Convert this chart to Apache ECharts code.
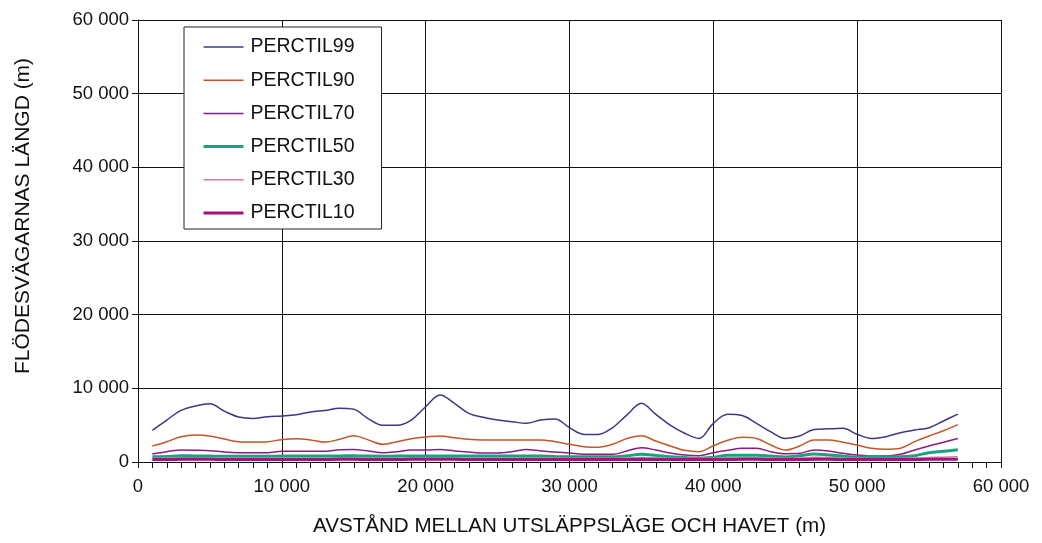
<!DOCTYPE html>
<html>
<head>
<meta charset="utf-8">
<script src="https://cdn.jsdelivr.net/npm/echarts@6/dist/echarts.min.js"></script>
<style>
html,body{margin:0;padding:0;background:#fff;}
#chart{width:1042px;height:543px;}
</style>
</head>
<body>
<div id="chart"></div>
<script>
// Distance from release point to sea (m)
const xValues = [1000,2000,3000,4000,5000,6000,7000,8000,9000,10000,
  11000,12000,13000,14000,15000,16000,17000,18000,19000,20000,
  21000,22000,23000,24000,25000,26000,27000,28000,29000,30000,
  31000,32000,33000,34000,35000,36000,37000,38000,39000,40000,
  41000,42000,43000,44000,45000,46000,47000,48000,49000,50000,
  51000,52000,53000,54000,55000,56000,57000];

const perctil99 = [4300,5700,7000,7600,7900,6900,6100,5900,6150,6250,
  6400,6800,7000,7300,7150,5900,5000,5000,5700,7500,
  9100,7960,6600,6070,5700,5470,5250,5700,5840,4660,
  3750,3750,4660,6400,7960,6470,5000,3900,3200,5250,
  6470,6300,5250,4100,3200,3530,4400,4500,4570,3760,
  3200,3440,3980,4340,4660,5570,6500];

const perctil90 = [2170,2760,3440,3660,3530,3120,2760,2700,2760,3030,
  3160,3000,2700,3080,3570,3000,2400,2760,3160,3400,
  3530,3300,3080,3000,3000,3000,3000,3000,2760,2400,
  2080,2000,2400,3200,3570,2850,2170,1580,1400,2200,
  2940,3350,3200,2300,1630,2170,3000,3000,2670,2300,
  1860,1720,1860,2760,3530,4250,5070];

const perctil70 = [1090,1400,1630,1600,1540,1350,1270,1270,1270,1450,
  1450,1450,1450,1650,1700,1500,1260,1400,1630,1630,
  1680,1500,1360,1220,1220,1400,1680,1500,1360,1220,
  1040,1040,1040,1500,1950,1630,1220,950,860,1270,
  1580,1860,1860,1400,1130,1180,1630,1500,1180,950,
  800,800,1040,1630,2170,2670,3200];

const perctil50 = [700,750,850,820,800,780,780,780,780,800,
  800,800,800,820,850,800,780,800,820,820,
  830,820,800,800,800,800,820,800,750,700,
  700,700,700,850,1040,900,700,600,500,650,
  900,900,900,800,680,850,1090,950,800,680,
  700,700,700,860,1270,1450,1670];

const perctil30 = [520,560,600,580,560,540,530,530,530,550,
  550,550,550,570,580,560,530,550,570,570,
  580,560,550,540,540,550,570,560,540,520,
  500,500,500,560,620,580,520,480,460,520,
  580,600,600,550,500,540,650,600,540,500,
  480,480,500,560,620,660,700];

const perctil10 = [350,350,360,360,360,350,350,350,350,350,
  350,350,350,360,360,350,350,350,360,360,
  360,360,350,350,350,350,350,350,350,350,
  340,340,340,350,360,350,340,330,330,340,
  350,360,360,350,340,350,360,360,350,340,
  340,340,340,350,360,370,380];

const seriesNames = ['PERCTIL99','PERCTIL90','PERCTIL70','PERCTIL50','PERCTIL30','PERCTIL10'];
const seriesValues = [perctil99, perctil90, perctil70, perctil50, perctil30, perctil10];
const seriesColors = ['#3b3886','#c4562a','#8e1a86','#15a383','#d47aa3','#a3127e'];
const seriesWidths = [1.5,1.5,1.5,3,1.5,3];

const yTicks = [0,10000,20000,30000,40000,50000,60000];
const xTicks = [0,10000,20000,30000,40000,50000,60000];

const xTitle = 'AVSTÅND MELLAN UTSLÄPPSLÄGE OCH HAVET (m)';
const yTitle = 'FLÖDESVÄGARNAS LÄNGD (m)';

const fmt = v => {
  const s = String(Math.round(v));
  return s.replace(/\B(?=(\d{3})+(?!\d))/g, ' ');
};

const FONT = '"Liberation Sans", Arial, Helvetica, sans-serif';

const chart = echarts.init(document.getElementById('chart'), null, {renderer:'canvas'});

const series = seriesNames.map((name, i) => ({
  name: name,
  type: 'line',
  symbol: 'none',
  smooth: 0.35,
  color: seriesColors[i],
  lineStyle: {color: seriesColors[i], width: seriesWidths[i]},
  data: xValues.map((x, j) => [x, seriesValues[i][j]]),
  z: 3
}));

chart.setOption({
  animation: false,
  backgroundColor: '#ffffff',
  textStyle: {fontFamily: FONT},
  grid: {left: 138, right: 41, top: 20, bottom: 81, containLabel: false},
  legend: {
    orient: 'vertical',
    left: 184,
    top: 27,
    data: seriesNames.map((n, i) => ({
      name: n,
      lineStyle: {color: seriesColors[i], width: seriesWidths[i]}
    })),
    itemWidth: 40,
    itemHeight: 14,
    itemGap: 13.2,
    padding: [10, 27, 6, 18],
    borderColor: '#222',
    borderWidth: 1,
    backgroundColor: '#fff',
    itemStyle: {opacity: 0},
    textStyle: {fontFamily: FONT, fontSize: 19.5, lineHeight: 20, color: '#111', padding: [0,0,0,2]}
  },
  graphic: [{
    type: 'text',
    x: 23,
    y: 216,
    rotation: Math.PI / 2,
    style: {
      text: yTitle,
      fontFamily: FONT,
      fontSize: 21,
      fill: '#111',
      align: 'center',
      verticalAlign: 'middle'
    }
  }],
  xAxis: {
    type: 'value',
    min: xTicks[0],
    max: xTicks[xTicks.length-1],
    interval: 10000,
    name: xTitle,
    nameLocation: 'middle',
    nameGap: 54,
    nameTextStyle: {fontFamily: FONT, fontSize: 20.6, color: '#111'},
    axisLine: {show: true, onZero: false, lineStyle: {color: '#111', width: 1}},
    axisTick: {show: true, length: 6, lineStyle: {color: '#111'}},
    minorTick: {show: true, splitNumber: 10, length: 6, lineStyle: {color: '#111'}},
    axisLabel: {fontFamily: FONT, fontSize: 18.5, color: '#111', margin: 15, formatter: fmt},
    splitLine: {show: true, lineStyle: {color: '#111', width: 1}}
  },
  yAxis: {
    type: 'value',
    min: yTicks[0],
    max: yTicks[yTicks.length-1],
    interval: 10000,
    axisLine: {show: true, lineStyle: {color: '#111', width: 1}},
    axisTick: {show: true, length: 6, lineStyle: {color: '#111'}},
    axisLabel: {fontFamily: FONT, fontSize: 18.5, color: '#111', margin: 9, formatter: fmt},
    splitLine: {show: true, lineStyle: {color: '#111', width: 1}}
  },
  series: series
});
</script>
</body>
</html>
